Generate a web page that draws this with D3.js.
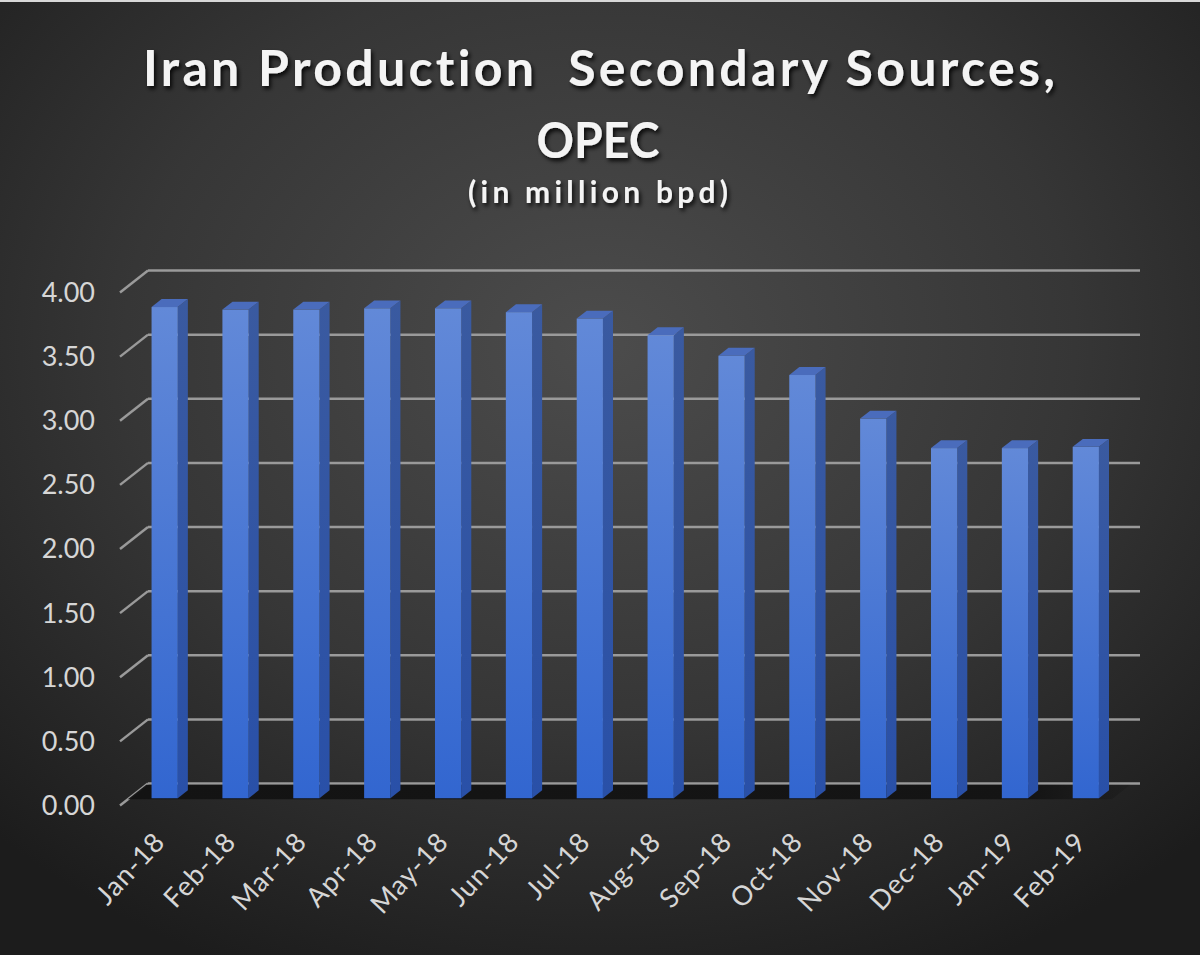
<!DOCTYPE html>
<html>
<head>
<meta charset="utf-8">
<script src="https://cdn.jsdelivr.net/npm/d3@7"></script>
<style>
  html, body { margin: 0; padding: 0; background: #2a2a2a; }
  svg { display: block; }
  text { white-space: pre; font-variant-ligatures: none; font-feature-settings: "liga" 0, "clig" 0; }
</style>
</head>
<body>
<svg id="chart" width="1200" height="955"></svg>
<script>
const categories = ["Jan-18","Feb-18","Mar-18","Apr-18","May-18","Jun-18","Jul-18","Aug-18","Sep-18","Oct-18","Nov-18","Dec-18","Jan-19","Feb-19"];
const values = [3.83, 3.81, 3.81, 3.82, 3.82, 3.79, 3.74, 3.61, 3.45, 3.30, 2.96, 2.73, 2.73, 2.74];
const yTicks = [0, 0.5, 1, 1.5, 2, 2.5, 3, 3.5, 4];
const titleLines = ["Iran Production  Secondary Sources,", "OPEC"];
const subtitle = "(in million bpd)";

const W = 1200, H = 955;
const svg = d3.select("#chart");
const defs = svg.append("defs");

// background
const bg = defs.append("radialGradient").attr("id", "bg")
  .attr("cx", "0.5").attr("cy", "0.36").attr("r", "0.72");
bg.append("stop").attr("offset", "0").attr("stop-color", "#4c4c4c");
bg.append("stop").attr("offset", "0.55").attr("stop-color", "#363636");
bg.append("stop").attr("offset", "1").attr("stop-color", "#1c1c1c");
svg.append("rect").attr("width", W).attr("height", H).attr("fill", "url(#bg)");
svg.append("rect").attr("width", W).attr("height", 2).attr("fill", "#d8d8d8");

// bar gradients
const gFront = defs.append("linearGradient").attr("id", "front").attr("x1", 0).attr("y1", 0).attr("x2", 0).attr("y2", 1);
gFront.append("stop").attr("offset", "0").attr("stop-color", "#6289d8");
gFront.append("stop").attr("offset", "1").attr("stop-color", "#3266d0");
const gSide = defs.append("linearGradient").attr("id", "side").attr("x1", 0).attr("y1", 0).attr("x2", 0).attr("y2", 1);
gSide.append("stop").attr("offset", "0").attr("stop-color", "#3a5aa0");
gSide.append("stop").attr("offset", "1").attr("stop-color", "#2950a8");

const floorGrad = defs.append("linearGradient").attr("id", "floorg").attr("x1", 0).attr("y1", 0).attr("x2", 1).attr("y2", 0);
floorGrad.append("stop").attr("offset", "0").attr("stop-color", "#121212").attr("stop-opacity", 0.95);
floorGrad.append("stop").attr("offset", "0.9").attr("stop-color", "#121212").attr("stop-opacity", 0.9);
floorGrad.append("stop").attr("offset", "1").attr("stop-color", "#121212").attr("stop-opacity", 0.2);

const shadow = defs.append("filter").attr("id", "tshadow").attr("x", "-10%").attr("y", "-30%").attr("width", "120%").attr("height", "160%");
shadow.append("feDropShadow").attr("dx", 2).attr("dy", 3).attr("stdDeviation", 2)
  .attr("flood-color", "#000").attr("flood-opacity", 0.85);

// scales (back wall plane)
const x = d3.scaleBand().domain(categories).range([148, 1140]).paddingInner(0).paddingOuter(0);
const y = d3.scaleLinear().domain([0, 4]).range([783.5, 270.5]);
const DX = -28, DY = 22;
const proj = (px, py, d) => [px + DX * d, py + DY * d];
const dFront = 0.67, dBack = 0.31;
const barW = x.bandwidth() * 0.37;

// gridlines on back wall
const grid = svg.append("g");
grid.selectAll("line.h").data(yTicks).join("line")
  .attr("x1", x.range()[0]).attr("x2", x.range()[1])
  .attr("y1", d => y(d)).attr("y2", d => y(d))
  .attr("stroke", "#9a9a9a").attr("stroke-width", 2.5);
grid.selectAll("line.d").data(yTicks).join("line")
  .attr("x1", x.range()[0]).attr("y1", d => y(d))
  .attr("x2", d => proj(x.range()[0], y(d), 1)[0]).attr("y2", d => proj(x.range()[0], y(d), 1)[1])
  .attr("stroke", "#9a9a9a").attr("stroke-width", 2.5);

// floor shadow
const f0 = 0.06, f1 = 0.72;
const x0 = x.range()[0], x1 = x.range()[1] - 8;
const floorPts = [proj(x0, y(0), f0), proj(x1, y(0), f0), proj(x1, y(0), f1), proj(x0, y(0), f1)];
svg.append("polygon").attr("points", floorPts.map(p => p.join(",")).join(" "))
  .attr("fill", "url(#floorg)");

// y tick labels
svg.append("g").selectAll("text").data(yTicks).join("text")
  .attr("x", 95).attr("y", d => proj(x0, y(d), 1)[1])
  .attr("dy", "0.35em")
  .attr("text-anchor", "end")
  .attr("font-family", "Lato, 'Open Sans', sans-serif")
  .attr("font-size", 27)
  .attr("fill", "#d6d6d6")
  .text(d => d.toFixed(2));

// bars
const bars = svg.append("g").selectAll("g").data(categories.map((c, i) => ({c, v: values[i]}))).join("g");
const pts = a => a.map(p => p.join(",")).join(" ");
bars.each(function(d) {
  const g = d3.select(this);
  const cx = x(d.c) + x.bandwidth() / 2;
  const l = cx - barW / 2, r = cx + barW / 2;
  const top = y(d.v), bot = y(0);
  const fTL = proj(l, top, dFront), fTR = proj(r, top, dFront), fBR = proj(r, bot, dFront), fBL = proj(l, bot, dFront);
  const bTL = proj(l, top, dBack), bTR = proj(r, top, dBack), bBR = proj(r, bot, dBack);
  g.append("polygon").attr("points", pts([fTR, bTR, bBR, fBR])).attr("fill", "url(#side)");
  g.append("polygon").attr("points", pts([fTL, fTR, bTR, bTL])).attr("fill", "#4a6cbc");
  g.append("rect").attr("x", fTL[0]).attr("y", fTL[1]).attr("width", r - l).attr("height", fBL[1] - fTL[1])
    .attr("fill", "url(#front)");
});

// x labels
svg.append("g").selectAll("text").data(categories).join("text")
  .attr("transform", d => {
    const p = proj(x(d) + x.bandwidth() / 2, y(0), dFront);
    return `translate(${p[0] + 2},843) rotate(-47)`;
  })
  .attr("text-anchor", "end")
  .attr("font-family", "Lato, 'Open Sans', sans-serif")
  .attr("font-size", 27)
  .attr("letter-spacing", 1)
  .attr("fill", "#d6d6d6")
  .text(d => d);

// titles
const tg = svg.append("g").attr("filter", "url(#tshadow)")
  .attr("font-family", "Lato, 'Open Sans', sans-serif").attr("font-weight", "bold")
  .attr("fill", "#f4f4f4").attr("text-anchor", "middle");
tg.append("text").attr("x", 599).attr("y", 86).attr("font-size", 50)
  .attr("textLength", 912).attr("lengthAdjust", "spacing").text(titleLines[0]);
tg.append("text").attr("x", 598).attr("y", 158).attr("font-size", 50)
  .attr("textLength", 123).attr("lengthAdjust", "spacingAndGlyphs").text(titleLines[1]);
tg.append("text").attr("x", 598).attr("y", 203).attr("font-size", 30)
  .attr("textLength", 260).attr("lengthAdjust", "spacing").text(subtitle);
</script>
</body>
</html>
